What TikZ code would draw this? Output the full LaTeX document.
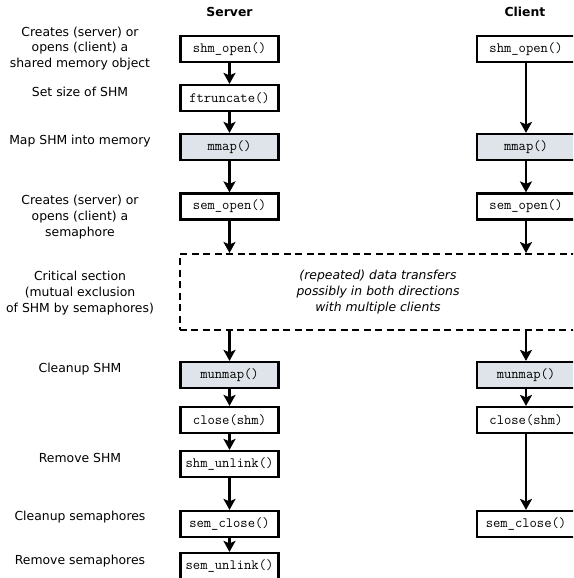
\documentclass[tikz,border=0pt]{standalone}
\usepackage{fontspec}
\setmainfont{DejaVu Sans}
\usepackage{tikz}
\usetikzlibrary{arrows.meta}
\definecolor{shmfill}{RGB}{222,228,233}
\newcommand{\labfont}{\fontsize{12.4}{15.6}\selectfont}
\newcommand{\codefont}{\ttfamily\fontsize{14.2}{16}\selectfont}

\begin{document}
\begin{tikzpicture}[x=1pt, y=-1pt,
  >={Stealth[length=11pt,width=12pt,inset=2.5pt]},
  fn/.style={draw, line width=2.2pt, minimum width=98pt, minimum height=26pt,
    inner sep=0pt, fill=white, font=\codefont},
  mapfn/.style={fn, fill=shmfill},
  flow/.style={->, line width=2.2pt},
  note/.style={align=center, font=\labfont},
  head/.style={font=\labfont\bfseries}]
  \useasboundingbox (0,0) rectangle (573,578);
  \clip (0,0) rectangle (573,578);

  % column heads
  \node[head] (server) at (229.5,12) {Server};
  \node[head] (client) at (525,12) {Client};

  % notes on the left
  \foreach \i/\y/\txt in {1/48.5/{Creates (server) or\\opens (client) a\\shared memory object},
      2/92/{Set size of SHM}, 3/141/{Map SHM into memory},
      4/217/{Creates (server) or\\opens (client) a\\semaphore},
      5/293/{Critical section\\(mutual exclusion\\of SHM by semaphores)},
      6/369/{Cleanup SHM}, 7/458/{Remove SHM},
      8/517/{Cleanup semaphores}, 9/561/{Remove semaphores}}{
    \node[note] (note\i) at (80,\y) {\txt};
  }

  % critical section
  \node[draw, dash pattern=on 7pt off 4.5pt, line width=2pt,
    minimum width=397pt, minimum height=76pt, align=center,
    font=\labfont\itshape] (crit) at (378,292)
    {(repeated) data transfers\\possibly in both directions\\with multiple clients};

  % server calls
  \node[fn] (svshm) at (229.5,49) {shm\_open()};
  \node[fn] (svtrunc) at (229.5,98) {ftruncate()};
  \node[mapfn] (svmmap) at (229.5,147) {mmap()};
  \node[fn] (svsem) at (229.5,206.5) {sem\_open()};
  \node[mapfn] (svmunmap) at (229.5,375) {munmap()};
  \node[fn] (svclose) at (229.5,420) {close(shm)};
  \node[fn] (svunlink) at (229.5,464) {shm\_unlink()};
  \node[fn] (svsemclose) at (229.5,524) {sem\_close()};
  \node[fn] (svsemunlink) at (229.5,566) {sem\_unlink()};

  % client calls
  \node[fn] (clshm) at (526,49) {shm\_open()};
  \node[mapfn] (clmmap) at (526,147) {mmap()};
  \node[fn] (clsem) at (526,206.5) {sem\_open()};
  \node[mapfn] (clmunmap) at (526,375) {munmap()};
  \node[fn] (clclose) at (526,420) {close(shm)};
  \node[fn] (clsemclose) at (526,524) {sem\_close()};

  % arrows
  \draw[flow] (svshm) -- (svtrunc);
  \draw[flow] (svtrunc) -- (svmmap);
  \draw[flow] (svmmap) -- (svsem);
  \draw[flow] (svsem) -- (svsem |- crit.north);
  \draw[flow] (svsem |- crit.south) -- (svmunmap);
  \draw[flow] (svmunmap) -- (svclose);
  \draw[flow] (svclose) -- (svunlink);
  \draw[flow] (svunlink) -- (svsemclose);
  \draw[flow] (svsemclose) -- (svsemunlink);

  \draw[flow] (clshm) -- (clmmap);
  \draw[flow] (clmmap) -- (clsem);
  \draw[flow] (clsem) -- (clsem |- crit.north);
  \draw[flow] (clsem |- crit.south) -- (clmunmap);
  \draw[flow] (clmunmap) -- (clclose);
  \draw[flow] (clclose) -- (clsemclose);
\end{tikzpicture}
\end{document}
